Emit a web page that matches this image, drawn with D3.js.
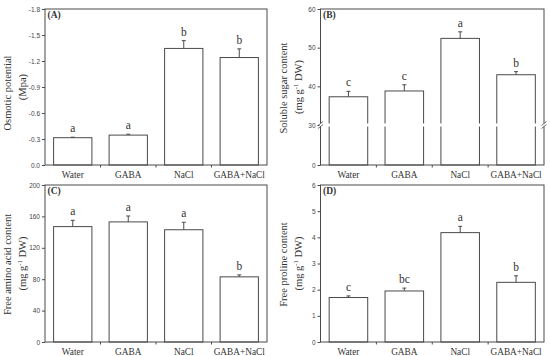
<!DOCTYPE html>
<html>
<head>
<meta charset="utf-8">
<script src="https://cdn.jsdelivr.net/npm/d3@7"></script>
<style>
  body { margin: 0; background: #fff; }
  svg { display: block; }
</style>
</head>
<body>
<div id="visual"></div>
<script>
const categories = ['Water', 'GABA', 'NaCl', 'GABA+NaCl'];

// (A) osmotic potential, plotted as magnitude (axis is negative)
const osmoticValues = [0.315, 0.345, 1.345, 1.24];
const osmoticErrors = [0.006, 0.01, 0.09, 0.1];
const osmoticLetters = ['a', 'a', 'b', 'b'];
const osmoticTicks = [0, 0.3, 0.6, 0.9, 1.2, 1.5, 1.8];

// (B) soluble sugar, broken axis at 30
const sugarValues = [37.3, 38.8, 52.4, 43.0];
const sugarErrors = [1.4, 1.6, 1.7, 0.8];
const sugarLetters = ['c', 'c', 'a', 'b'];
const sugarTicks = [0, 30, 40, 50, 60];

// (C) free amino acid
const aminoValues = [147, 153, 143, 83];
const aminoErrors = [8, 7.5, 9.5, 2.5];
const aminoLetters = ['a', 'a', 'a', 'b'];
const aminoTicks = [0, 40, 80, 120, 160, 200];

// (D) free proline
const prolineValues = [1.7, 1.95, 4.18, 2.28];
const prolineErrors = [0.06, 0.11, 0.24, 0.25];
const prolineLetters = ['c', 'bc', 'a', 'b'];
const prolineTicks = [0, 1, 2, 3, 4, 5, 6];

const W = 550;
const H = 356;
const lineColor = '#4a4a4a';
const textColor = '#333';
const serif = '"Liberation Serif", "Times New Roman", serif';
const sans = '"Liberation Sans", Arial, sans-serif';

const svg = d3.select('#visual').append('svg')
  .attr('width', W)
  .attr('height', H);

function drawPanel(cfg) {
  const { left, right, top, bottom } = cfg;
  const g = svg.append('g');

  const x = d3.scaleBand()
    .domain(categories)
    .range([left, right])
    .paddingInner(0.31)
    .paddingOuter(0.155);

  const y = cfg.yScale;
  const breakY = cfg.breakAt !== undefined ? y(cfg.breakAt) : null;

  // bars
  const bars = g.selectAll('.bar')
    .data(cfg.values)
    .enter().append('g')
    .attr('class', 'bar');

  bars.append('rect')
    .attr('x', (d, i) => x(categories[i]))
    .attr('y', d => y(d))
    .attr('width', x.bandwidth())
    .attr('height', d => y(0) - y(d))
    .attr('fill', '#fff')
    .attr('stroke', lineColor)
    .attr('stroke-width', 1);

  // error bars (upper only)
  bars.append('line')
    .attr('x1', (d, i) => x(categories[i]) + x.bandwidth() / 2)
    .attr('x2', (d, i) => x(categories[i]) + x.bandwidth() / 2)
    .attr('y1', d => y(d))
    .attr('y2', (d, i) => y(d + cfg.errors[i]))
    .attr('stroke', lineColor)
    .attr('stroke-width', 1);

  bars.append('line')
    .attr('x1', (d, i) => x(categories[i]) + x.bandwidth() / 2 - 2)
    .attr('x2', (d, i) => x(categories[i]) + x.bandwidth() / 2 + 2)
    .attr('y1', (d, i) => y(d + cfg.errors[i]))
    .attr('y2', (d, i) => y(d + cfg.errors[i]))
    .attr('stroke', lineColor)
    .attr('stroke-width', 1);

  // significance letters
  bars.append('text')
    .attr('x', (d, i) => x(categories[i]) + x.bandwidth() / 2)
    .attr('y', (d, i) => y(d + cfg.errors[i]) - 5)
    .attr('text-anchor', 'middle')
    .attr('font-family', serif)
    .attr('font-size', 11.5)
    .attr('fill', textColor)
    .text((d, i) => cfg.letters[i]);

  // frame
  g.append('rect')
    .attr('x', left)
    .attr('y', top)
    .attr('width', right - left)
    .attr('height', bottom - top)
    .attr('fill', 'none')
    .attr('stroke', lineColor)
    .attr('stroke-width', 1);

  // y axis ticks
  const yAxis = d3.axisLeft(y)
    .tickValues(cfg.ticks)
    .tickSize(3)
    .tickPadding(2)
    .tickFormat(cfg.tickFormat);

  const ya = g.append('g')
    .attr('transform', `translate(${left},0)`)
    .call(yAxis);
  ya.select('.domain').remove();
  ya.selectAll('line').attr('stroke', lineColor);
  ya.selectAll('text')
    .attr('font-family', sans)
    .attr('font-size', 6.5)
    .attr('fill', '#444');

  // x axis: category labels and small ticks between bands
  const xAxis = d3.axisBottom(x).tickSize(0).tickPadding(6);
  const xa = g.append('g')
    .attr('transform', `translate(0,${bottom})`)
    .call(xAxis);
  xa.select('.domain').remove();
  xa.selectAll('text')
    .attr('font-family', serif)
    .attr('font-size', 9.3)
    .attr('fill', textColor);

  const step = x.step();
  g.selectAll('.minor')
    .data(d3.range(1, categories.length))
    .enter().append('line')
    .attr('class', 'minor')
    .attr('x1', i => left + step * i)
    .attr('x2', i => left + step * i)
    .attr('y1', bottom)
    .attr('y2', bottom + 2.5)
    .attr('stroke', lineColor);

  // axis break
  if (breakY !== null) {
    g.append('rect')
      .attr('x', left - 1)
      .attr('y', breakY - 1.5)
      .attr('width', right - left + 2)
      .attr('height', 3)
      .attr('fill', '#fff');
    [left, right].forEach((bx) => {
      [-1.5, 1.5].forEach((off) => {
        g.append('line')
          .attr('x1', bx - 2.5)
          .attr('x2', bx + 2.5)
          .attr('y1', breakY + off + 2)
          .attr('y2', breakY + off - 2)
          .attr('stroke', lineColor)
          .attr('stroke-width', 0.8);
      });
    });
  }

  // panel label
  g.append('text')
    .attr('x', left + 2.5)
    .attr('y', top + 8.5)
    .attr('font-family', serif)
    .attr('font-weight', 'bold')
    .attr('font-size', 9.5)
    .attr('fill', textColor)
    .text(cfg.label);

  // y title (two lines)
  const midY = (top + bottom) / 2;
  g.append('text')
    .attr('transform', `translate(${left - 34},${midY + cfg.titleShift}) rotate(-90)`)
    .attr('text-anchor', 'middle')
    .attr('font-family', serif)
    .attr('font-size', 10.5)
    .attr('fill', textColor)
    .text(cfg.title);

  const t2 = g.append('text')
    .attr('transform', `translate(${left - 19},${midY}) rotate(-90)`)
    .attr('text-anchor', 'middle')
    .attr('font-family', serif)
    .attr('font-size', 10.5)
    .attr('fill', textColor);
  if (cfg.unit === 'mpa') {
    t2.text('(Mpa)');
  } else {
    t2.append('tspan').text('(mg g');
    t2.append('tspan')
      .attr('font-size', 6.5)
      .attr('dy', -4)
      .text('-1');
    t2.append('tspan')
      .attr('dy', 4)
      .text(' DW)');
  }
}

drawPanel({
  left: 45, right: 267, top: 9, bottom: 165,
  yScale: d3.scaleLinear().domain([0, 1.8]).range([165, 9]),
  values: osmoticValues,
  errors: osmoticErrors,
  letters: osmoticLetters,
  ticks: osmoticTicks,
  tickFormat: d => (d === 0 ? '0.0' : `-${d.toFixed(1)}`),
  label: '(A)',
  title: 'Osmotic potential',
  titleShift: 6,
  unit: 'mpa',
});

drawPanel({
  left: 320.5, right: 544, top: 9, bottom: 165,
  yScale: d3.scaleLinear().domain([0, 30, 60]).range([165, 125, 9]),
  breakAt: 30,
  values: sugarValues,
  errors: sugarErrors,
  letters: sugarLetters,
  ticks: sugarTicks,
  tickFormat: d3.format('d'),
  label: '(B)',
  title: 'Soluble sugar content',
  titleShift: 1,
  unit: 'mg',
});

drawPanel({
  left: 45, right: 267, top: 185, bottom: 342,
  yScale: d3.scaleLinear().domain([0, 200]).range([342, 185]),
  values: aminoValues,
  errors: aminoErrors,
  letters: aminoLetters,
  ticks: aminoTicks,
  tickFormat: d3.format('d'),
  label: '(C)',
  title: 'Free amino acid content',
  titleShift: 1,
  unit: 'mg',
});

drawPanel({
  left: 320.5, right: 544, top: 185, bottom: 342,
  yScale: d3.scaleLinear().domain([0, 6]).range([342, 185]),
  values: prolineValues,
  errors: prolineErrors,
  letters: prolineLetters,
  ticks: prolineTicks,
  tickFormat: d3.format('d'),
  label: '(D)',
  title: 'Free proline content',
  titleShift: 1,
  unit: 'mg',
});
</script>
</body>
</html>
